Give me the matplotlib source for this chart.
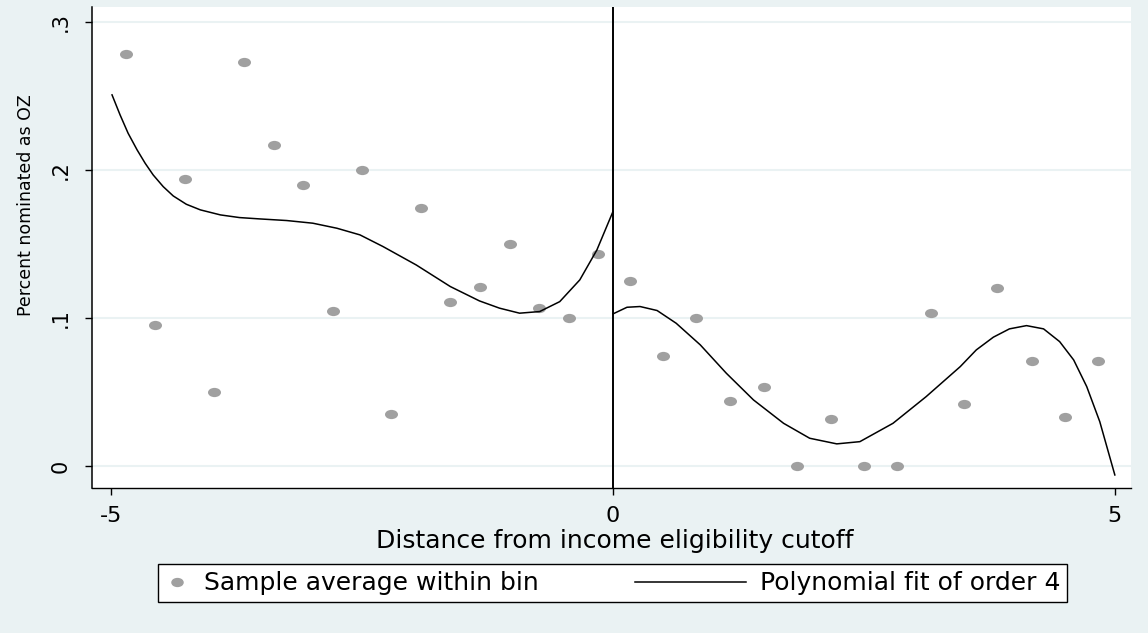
import numpy as np
import matplotlib
matplotlib.use('Agg')
import matplotlib.pyplot as plt
from matplotlib.path import Path
from matplotlib.transforms import Affine2D
from matplotlib.lines import Line2D
from matplotlib.legend_handler import HandlerLine2D

# bin averages
left_bin_x = [-4.85, -4.56, -4.26, -3.97, -3.68, -3.38, -3.09, -2.79, -2.50,
              -2.21, -1.91, -1.62, -1.32, -1.03, -0.74, -0.44, -0.15]
left_bin_y = [0.278, 0.095, 0.194, 0.050, 0.273, 0.217, 0.190, 0.105, 0.200,
              0.035, 0.174, 0.111, 0.121, 0.150, 0.107, 0.100, 0.143]
right_bin_x = [0.17, 0.50, 0.83, 1.17, 1.50, 1.83, 2.17, 2.50, 2.83, 3.17,
               3.50, 3.83, 4.17, 4.50, 4.83]
right_bin_y = [0.125, 0.074, 0.100, 0.044, 0.053, 0.0, 0.032, 0.0, 0.0, 0.103,
               0.042, 0.120, 0.071, 0.033, 0.071]

# order-4 fit
left_fit_x = [-4.99, -4.91, -4.83, -4.74, -4.66, -4.58, -4.48, -4.38, -4.25,
              -4.11, -3.91, -3.72, -3.52, -3.25, -2.99, -2.75, -2.52, -2.29,
              -1.96, -1.62, -1.33, -1.13, -0.93, -0.73, -0.53, -0.33, -0.16,
              0.0]
left_fit_y = [0.2507, 0.2372, 0.2248, 0.2135, 0.2045, 0.1966, 0.1887, 0.1824,
              0.1768, 0.1730, 0.1696, 0.1678, 0.1669, 0.1658, 0.1640, 0.1606,
              0.1561, 0.1482, 0.1358, 0.1212, 0.1115, 0.1066, 0.1032, 0.1043,
              0.1110, 0.1257, 0.1459, 0.1718]
right_fit_x = [0.0, 0.14, 0.27, 0.44, 0.63, 0.87, 1.13, 1.40, 1.70, 1.96, 2.23,
               2.46, 2.79, 3.12, 3.46, 3.62, 3.79, 3.95, 4.12, 4.29, 4.45, 4.59,
               4.72, 4.85, 5.0]
right_fit_y = [0.1027, 0.1072, 0.1077, 0.1050, 0.0964, 0.0818, 0.0626, 0.0446,
               0.0288, 0.0187, 0.0149, 0.0164, 0.0288, 0.0468, 0.0671, 0.0784,
               0.0870, 0.0926, 0.0948, 0.0926, 0.0840, 0.0716, 0.0536, 0.0299,
               -0.0061]

x_ticks = [-5, 0, 5]
x_tick_labels = ['-5', '0', '5']
y_ticks = [0, 0.1, 0.2, 0.3]
y_tick_labels = ['0', '.1', '.2', '.3']

bg = '#EAF2F3'
dot_color = '#A0A0A0'

# stata-ish squashed dot
dot = Path.unit_circle().transformed(Affine2D().scale(1.0, 0.71))


class LongLine(HandlerLine2D):
    # legend line that reaches further left than the handle box
    def get_xdata(self, legend, xdescent, ydescent, width, height, fontsize):
        x = np.array([-xdescent - 3.45 * fontsize, -xdescent + width])
        return x, x


fig = plt.figure(figsize=(11.48, 6.33), dpi=100, facecolor=bg)
ax = fig.add_axes([0.0801, 0.2291, 0.905, 0.7599])

ax.scatter(left_bin_x + right_bin_x, left_bin_y + right_bin_y, s=88,
           marker=dot, color=dot_color, linewidths=0, zorder=2)
ax.plot(left_fit_x, left_fit_y, color='black', lw=1.1, zorder=3)
ax.plot(right_fit_x, right_fit_y, color='black', lw=1.1, zorder=3)
ax.axvline(0, color='black', lw=1.4, zorder=3)

ax.set_xlim(-5.19, 5.16)
ax.set_ylim(-0.0149, 0.3101)
ax.set_xticks(x_ticks, x_tick_labels, fontsize=16)
ax.set_yticks(y_ticks, y_tick_labels, fontsize=15, rotation=90, va='center')
ax.tick_params(axis='x', length=5, width=1, pad=8)
ax.tick_params(axis='y', length=5, width=1, pad=10)
ax.grid(axis='y', color=bg, lw=1.5)
ax.set_axisbelow(True)

for side in ['top', 'right']:
    ax.spines[side].set_visible(False)
ax.spines['left'].set_linewidth(1.1)
ax.spines['bottom'].set_linewidth(1.0)

ax.set_xlabel('Distance from income eligibility cutoff', fontsize=18)
ax.xaxis.set_label_coords(0.503, -0.085)
ax.set_ylabel('Percent nominated as OZ', fontsize=12.5)
ax.yaxis.set_label_coords(-0.055, 0.588)

dot_handle = Line2D([], [], marker=dot, markersize=8, color=dot_color,
                    linestyle='none')
line_handle = Line2D([], [], color='black', lw=1.1)
leg = fig.legend([dot_handle, line_handle],
                 ['Sample average within bin', 'Polynomial fit of order 4'],
                 loc='center', bbox_to_anchor=(0.5335, 0.0782), ncol=2,
                 fontsize=18, frameon=True, fancybox=False, framealpha=1,
                 edgecolor='black', borderpad=0.28, handlelength=1.0,
                 handletextpad=0.55, columnspacing=7.3,
                 handler_map={line_handle: LongLine()})
leg.get_frame().set_linewidth(1.0)

fig.savefig('out.png', dpi=100, facecolor=fig.get_facecolor())
